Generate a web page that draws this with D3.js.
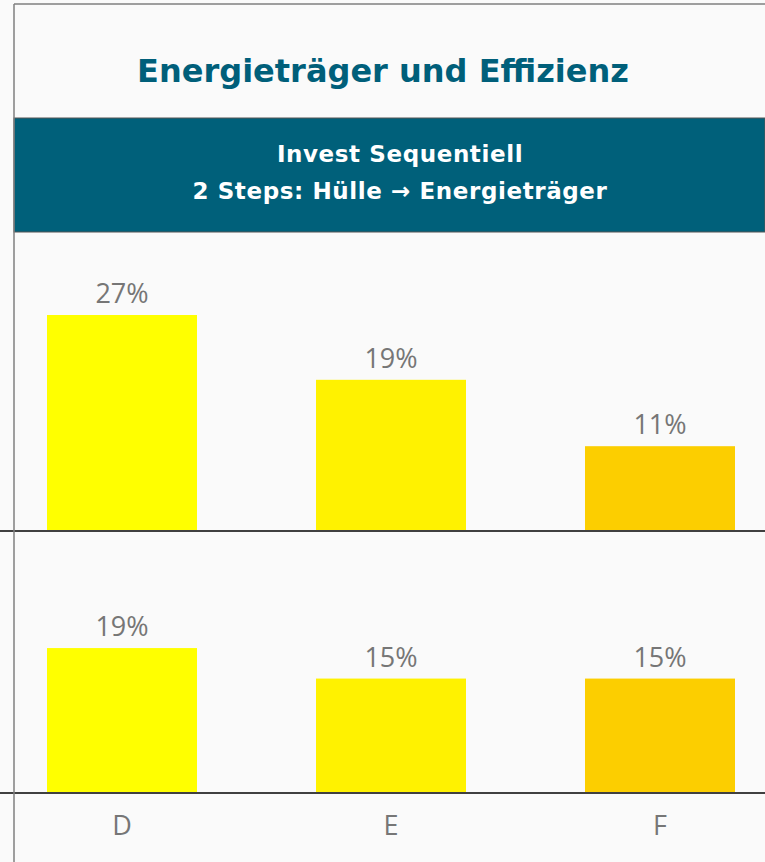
<!DOCTYPE html>
<html>
<head>
<meta charset="utf-8">
<script src="https://cdn.jsdelivr.net/npm/d3@7"></script>
<style>
  html, body { margin: 0; padding: 0; background: #fafafa; }
  svg { display: block; }
  .value-label, .cat-label { font-family: "Open Sans", sans-serif; font-size: 27px; fill: #767676; }
  .title { font-family: "DejaVu Sans", Verdana, sans-serif; font-weight: bold; }
</style>
</head>
<body>
<div id="chart"></div>
<script>
var categories = ["D", "E", "F"];
var topValues = [27, 18.9, 10.6];
var bottomValues = [19, 15, 15];
var barColors = ["#ffff00", "#fff200", "#fcce00"];
var titleText = "Energieträger und Effizienz";
var headerLines = ["Invest Sequentiell", "2 Steps: Hülle \u2192 Energieträger"];

var dim = {
  width: 765,
  height: 862,
  borderLeft: 14,
  borderTop: 4,
  headerTop: 118,
  headerBottom: 232,
  topBase: 531,
  topHeight: 280,
  bottomBase: 793,
  bottomHeight: 267,
  labelGap: 12,
  catLabelY: 835,
}

var teal = "#005f7a";

var svg = d3.select("#chart").append("svg")
  .attr("width", dim.width)
  .attr("height", dim.height);

svg.append("rect")
  .attr("width", dim.width)
  .attr("height", dim.height)
  .attr("fill", "#fafafa");

// title
svg.append("text")
  .attr("class", "title")
  .attr("x", 383)
  .attr("y", 82)
  .attr("text-anchor", "middle")
  .style("font-size", "32px")
  .style("fill", teal)
  .text(titleText);

// header band
svg.append("rect")
  .attr("x", dim.borderLeft)
  .attr("y", dim.headerTop)
  .attr("width", dim.width - dim.borderLeft)
  .attr("height", dim.headerBottom - dim.headerTop)
  .attr("fill", "#00607a")
  .attr("stroke", "#555")
  .attr("stroke-width", 1);

svg.selectAll(".header-line")
  .data(headerLines)
  .enter().append("text")
  .attr("class", "title header-line")
  .attr("x", 400)
  .attr("y", function(d, i) { return 162 + i * 37; })
  .attr("text-anchor", "middle")
  .style("font-size", "23px")
  .style("letter-spacing", "0.6px")
  .style("fill", "#ffffff")
  .text(function(d) { return d; });

// x scale shared by both panels
var x = d3.scaleBand()
  .domain(categories)
  .range([-12.5, 794.5])
  .paddingInner(0.4424)
  .paddingOuter(0.2212);

var yTop = d3.scaleLinear()
  .domain([0, 35])
  .range([dim.topBase, dim.topBase - dim.topHeight]);

var yBottom = d3.scaleLinear()
  .domain([0, 35])
  .range([dim.bottomBase, dim.bottomBase - dim.bottomHeight]);

function drawPanel(values, y, name) {
  var g = svg.append("g").attr("class", name);

  g.selectAll("rect")
    .data(values)
    .enter().append("rect")
    .attr("x", function(d, i) { return x(categories[i]); })
    .attr("y", function(d) { return y(d); })
    .attr("width", x.bandwidth())
    .attr("height", function(d) { return y(0) - y(d); })
    .attr("fill", function(d, i) { return barColors[i]; });

  g.selectAll("text")
    .data(values)
    .enter().append("text")
    .attr("class", "value-label")
    .attr("x", function(d, i) { return x(categories[i]) + x.bandwidth() / 2; })
    .attr("y", function(d) { return y(d) - dim.labelGap; })
    .attr("text-anchor", "middle")
    .text(function(d) { return Math.round(d) + "%"; });

  var axis = d3.axisBottom(x).tickSize(0).tickFormat("");
  var ax = g.append("g")
    .attr("transform", "translate(0," + y(0) + ")")
    .call(axis);
  ax.select(".domain").remove();
  ax.append("line")
    .attr("x1", 0)
    .attr("x2", dim.width)
    .attr("stroke", "#404040")
    .attr("stroke-width", 2);
  return ax;
}

drawPanel(topValues, yTop, "panel-top");
drawPanel(bottomValues, yBottom, "panel-bottom");

// category labels under the lower panel
svg.selectAll(".cat-label")
  .data(categories)
  .enter().append("text")
  .attr("class", "cat-label")
  .attr("x", function(d) { return x(d) + x.bandwidth() / 2; })
  .attr("y", dim.catLabelY)
  .attr("text-anchor", "middle")
  .text(function(d) { return d; });

// frame lines
svg.append("line")
  .attr("x1", dim.borderLeft).attr("x2", dim.width)
  .attr("y1", dim.borderTop).attr("y2", dim.borderTop)
  .attr("stroke", "#7f7f7f").attr("stroke-width", 1.5);
svg.append("line")
  .attr("x1", dim.borderLeft).attr("x2", dim.borderLeft)
  .attr("y1", dim.borderTop).attr("y2", dim.height)
  .attr("stroke", "#7f7f7f").attr("stroke-width", 1.5);
</script>
</body>
</html>
